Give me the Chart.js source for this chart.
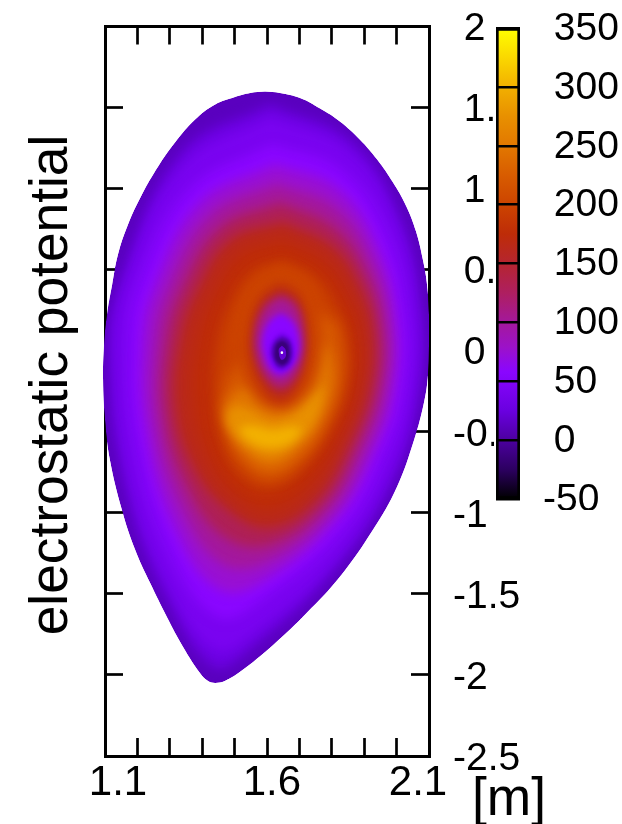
<!DOCTYPE html>
<html>
<head>
<meta charset="utf-8">
<script src="https://cdn.jsdelivr.net/npm/chart.js@4"></script>
<style>
    html, body { margin: 0; padding: 0; background: #fff; }
    #wrap { position: relative; width: 622px; height: 824px; overflow: hidden; }
    #mapChart { position: absolute; left: 0; top: 0; }
    #barChart { position: absolute; left: 494px; top: 0; background: #fff; }
</style>
</head>
<body>
<div id="wrap">
    <canvas id="mapChart" width="622" height="824"></canvas>
    <canvas id="barChart" width="128" height="510"></canvas>
</div>
<script>
// axis labels
const xMinorTicks = [1.1, 2.1, 0.1];
const xLabelValues = [1.14, 1.615, 2.066];
const xTickLabels = ['1.1', '1.6', '2.1'];
const yTickLabels = ['-2.5', '-2', '-1.5', '-1', '-0.5', ' 0', ' 0.5', ' 1', ' 1.5', ' 2'];
const barTickLabels = ['-50', ' 0', ' 50', ' 100', ' 150', ' 200', ' 250', ' 300', ' 350'];
const yTitle = 'electrostatic potential';
const xUnit = '[m]';

// colour scale
const colorValues = [-50, -25, 0, 25, 58, 79, 100, 125, 150, 175, 200, 225, 250, 275, 300, 325, 350];
const colorHex = ['#000000', '#2c0060', '#4c00a0', '#6a00e0', '#8a06ff', '#9c12c8', '#a4189c', '#ae1f60',
    '#b52530', '#be2c08', '#cc4400', '#d85c00', '#e27800', '#e89000', '#f2b000', '#fad800', '#ffff00'];

// potential contours, painted in this order: outer edge, up to the crescent, then down into the centre
const contourLevels = [12, 28, 42, 58, 75, 100, 130, 165, 175, 187, 198, 225, 250, 275, 300, 200, 170, 130, 100, 58, 30, 5, -15, 20];
const contourX = [
    [1.594, 1.640, 1.702, 1.764, 1.825, 1.887, 1.940, 1.989, 2.029, 2.060, 2.081, 2.094, 2.100, 2.100, 2.097, 2.085, 2.054, 2.001, 1.927, 1.825, 1.723, 1.619, 1.517, 1.470, 1.440, 1.418, 1.393, 1.341, 1.291, 1.239, 1.193, 1.152, 1.115, 1.100, 1.094, 1.097, 1.106, 1.122, 1.140, 1.171, 1.214, 1.264, 1.316, 1.378, 1.440, 1.501, 1.548],
    [1.609, 1.859, 2.010, 2.075, 2.069, 1.986, 1.804, 1.535, 1.436, 1.301, 1.171, 1.112, 1.149, 1.338],
    [1.612, 1.847, 1.995, 2.060, 2.051, 1.980, 1.816, 1.554, 1.440, 1.301, 1.180, 1.134, 1.168, 1.347],
    [1.615, 1.825, 1.964, 2.026, 2.017, 1.964, 1.841, 1.594, 1.449, 1.301, 1.199, 1.177, 1.208, 1.362],
    [1.625, 1.819, 1.943, 2.001, 1.992, 1.936, 1.819, 1.597, 1.455, 1.316, 1.227, 1.214, 1.251, 1.393],
    [1.631, 1.813, 1.924, 1.977, 1.967, 1.909, 1.798, 1.603, 1.461, 1.335, 1.257, 1.254, 1.294, 1.424],
    [1.640, 1.807, 1.906, 1.952, 1.943, 1.881, 1.776, 1.606, 1.467, 1.353, 1.285, 1.291, 1.338, 1.455],
    [1.649, 1.804, 1.887, 1.927, 1.918, 1.856, 1.754, 1.609, 1.477, 1.372, 1.316, 1.331, 1.384, 1.486],
    [1.649, 1.779, 1.850, 1.887, 1.881, 1.825, 1.733, 1.609, 1.501, 1.415, 1.372, 1.387, 1.433, 1.517],
    [1.649, 1.757, 1.819, 1.856, 1.850, 1.801, 1.711, 1.609, 1.517, 1.455, 1.430, 1.440, 1.477, 1.548],
    [1.649, 1.739, 1.801, 1.838, 1.832, 1.786, 1.702, 1.609, 1.529, 1.473, 1.452, 1.461, 1.492, 1.560],
    [1.816, 1.831, 1.785, 1.702, 1.609, 1.532, 1.480, 1.467, 1.517, 1.640, 1.748],
    [1.791, 1.801, 1.757, 1.696, 1.615, 1.541, 1.486, 1.473, 1.548, 1.640, 1.733],
    [1.778, 1.757, 1.702, 1.619, 1.541, 1.480, 1.492, 1.548, 1.615, 1.687, 1.739],
    [1.711, 1.677, 1.615, 1.548, 1.517, 1.563, 1.615, 1.671],
    [1.643, 1.733, 1.770, 1.757, 1.696, 1.625, 1.554, 1.510, 1.517, 1.563],
    [1.640, 1.696, 1.723, 1.717, 1.680, 1.640, 1.594, 1.554, 1.548, 1.578],
    [1.643, 1.690, 1.714, 1.708, 1.677, 1.640, 1.603, 1.569, 1.563, 1.591],
    [1.643, 1.686, 1.708, 1.702, 1.674, 1.640, 1.606, 1.575, 1.569, 1.597],
    [1.643, 1.680, 1.699, 1.693, 1.668, 1.640, 1.612, 1.591, 1.585, 1.606],
    [1.646, 1.671, 1.683, 1.677, 1.662, 1.646, 1.628, 1.612, 1.609, 1.622],
    [1.646, 1.668, 1.677, 1.671, 1.659, 1.646, 1.631, 1.619, 1.615, 1.625],
    [1.646, 1.662, 1.668, 1.665, 1.656, 1.646, 1.634, 1.625, 1.625, 1.631],
    [1.646, 1.656, 1.659, 1.656, 1.646, 1.640, 1.637, 1.637],
];
const contourY = [
    [1.599, 1.590, 1.559, 1.494, 1.414, 1.302, 1.179, 1.037, 0.895, 0.735, 0.562, 0.407, 0.222, 0.037, -0.148, -0.315, -0.549, -0.840, -1.105, -1.395, -1.617, -1.815, -1.981, -2.037, -2.049, -2.037, -1.988, -1.827, -1.642, -1.432, -1.228, -0.981, -0.673, -0.426, -0.179, 0.037, 0.222, 0.407, 0.593, 0.778, 0.963, 1.136, 1.284, 1.426, 1.519, 1.565, 1.590],
    [1.519, 1.296, 0.821, 0.241, -0.253, -0.809, -1.364, -1.864, -1.951, -1.562, -0.901, -0.043, 0.432, 1.228],
    [1.438, 1.235, 0.784, 0.222, -0.259, -0.741, -1.265, -1.747, -1.846, -1.451, -0.784, -0.019, 0.426, 1.148],
    [1.272, 1.117, 0.716, 0.191, -0.272, -0.611, -1.074, -1.519, -1.642, -1.228, -0.549, 0.037, 0.407, 0.994],
    [1.148, 1.000, 0.636, 0.167, -0.259, -0.605, -1.031, -1.414, -1.475, -1.099, -0.500, 0.049, 0.395, 0.914],
    [1.031, 0.883, 0.556, 0.148, -0.247, -0.593, -0.994, -1.302, -1.315, -0.969, -0.451, 0.056, 0.389, 0.840],
    [0.914, 0.759, 0.475, 0.130, -0.235, -0.580, -0.957, -1.198, -1.148, -0.840, -0.395, 0.062, 0.383, 0.759],
    [0.796, 0.642, 0.395, 0.111, -0.222, -0.568, -0.920, -1.093, -0.981, -0.716, -0.346, 0.068, 0.377, 0.685],
    [0.685, 0.549, 0.333, 0.099, -0.210, -0.519, -0.827, -0.981, -0.889, -0.642, -0.302, 0.068, 0.333, 0.593],
    [0.574, 0.469, 0.284, 0.080, -0.210, -0.475, -0.747, -0.870, -0.796, -0.580, -0.272, 0.037, 0.284, 0.500],
    [0.537, 0.438, 0.265, 0.068, -0.210, -0.438, -0.685, -0.809, -0.735, -0.549, -0.272, 0.006, 0.241, 0.457],
    [0.160, -0.148, -0.457, -0.685, -0.784, -0.704, -0.519, -0.272, -0.086, 0.006, 0.222],
    [0.006, -0.210, -0.457, -0.611, -0.710, -0.642, -0.488, -0.333, -0.210, -0.148, 0.037],
    [-0.210, -0.395, -0.549, -0.648, -0.593, -0.457, -0.352, -0.364, -0.426, -0.377, -0.272],
    [-0.475, -0.562, -0.599, -0.562, -0.475, -0.463, -0.488, -0.469],
    [0.512, 0.407, 0.130, -0.148, -0.321, -0.364, -0.272, -0.025, 0.222, 0.420],
    [0.420, 0.346, 0.130, -0.086, -0.272, -0.321, -0.259, -0.086, 0.099, 0.315],
    [0.358, 0.296, 0.111, -0.068, -0.210, -0.253, -0.198, -0.056, 0.111, 0.284],
    [0.327, 0.265, 0.099, -0.056, -0.167, -0.204, -0.160, -0.043, 0.111, 0.253],
    [0.235, 0.179, 0.068, -0.043, -0.117, -0.148, -0.117, -0.025, 0.068, 0.179],
    [0.111, 0.080, 0.000, -0.074, -0.111, -0.123, -0.111, -0.056, 0.006, 0.074],
    [0.086, 0.062, -0.006, -0.068, -0.093, -0.105, -0.093, -0.049, 0.000, 0.056],
    [0.062, 0.043, -0.006, -0.056, -0.080, -0.086, -0.074, -0.043, 0.006, 0.043],
    [0.031, 0.012, -0.019, -0.043, -0.056, -0.043, -0.019, 0.012],
];
// the white spot at the magnetic axis
const axisX = [1.646];
const axisY = [-0.012];

const hexToRgb = (hex) => [1, 3, 5].map((i) => parseInt(hex.slice(i, i + 2), 16));

const colorAt = (value) => {
    let i = 0;
    while (i < colorValues.length - 2 && value > colorValues[i + 1]) i++;
    const t = (value - colorValues[i]) / (colorValues[i + 1] - colorValues[i]);
    const a = hexToRgb(colorHex[i]);
    const b = hexToRgb(colorHex[i + 1]);
    const c = a.map((v, k) => Math.round(v + (b[k] - v) * t));
    return `rgb(${c[0]}, ${c[1]}, ${c[2]})`;
};

Chart.defaults.font.family = '"Liberation Sans", Helvetica, Arial, sans-serif';
Chart.defaults.color = '#000';
Chart.defaults.animation = false;
Chart.defaults.responsive = false;
Chart.defaults.plugins.legend.display = false;
Chart.defaults.plugins.tooltip.enabled = false;

const contourSets = contourLevels.map((level, i) => ({
    data: contourX[i].concat(contourX[i][0]).map((x, k) => ({
        x,
        y: contourY[i].concat(contourY[i][0])[k],
    })),
    showLine: true,
    tension: 0.4,
    borderWidth: 0,
    pointRadius: 0,
    backgroundColor: colorAt(level),
}));

// Paints the contours through the line element path, clipped to the plasma edge
const contourFill = {
    id: 'contourFill',
    beforeDatasetsDraw: (chart) => {
        const ctx = chart.ctx;
        const edge = chart.getDatasetMeta(0).dataset;
        ctx.save();
        ctx.beginPath();
        edge.path(ctx);
        ctx.closePath();
        ctx.clip();
        contourLevels.forEach((level, i) => {
            const meta = chart.getDatasetMeta(i);
            const ys = meta.data.map((p) => p.y);
            const span = Math.max(...ys) - Math.min(...ys);
            // the crescent needs a softer edge than its size would give
            const blur = level >= 225 ? (400 - level) / 25 : Math.min(6, span * 0.05);
            ctx.filter = i === 0 ? 'none' : `blur(${blur}px)`;
            ctx.fillStyle = meta.dataset.options.backgroundColor;
            ctx.beginPath();
            meta.dataset.path(ctx);
            ctx.closePath();
            ctx.fill();
        });
        ctx.restore();
    },
};

const axisTitles = {
    id: 'axisTitles',
    afterDraw: (chart) => {
        const ctx = chart.ctx;
        ctx.save();
        ctx.fillStyle = '#000';
        ctx.font = '53.3px "Liberation Sans"';
        ctx.textAlign = 'center';
        ctx.textBaseline = 'alphabetic';
        ctx.fillText(xUnit, 509, 815);
        ctx.translate(67, 385);
        ctx.rotate(-Math.PI / 2);
        ctx.fillText(yTitle, 0, 0);
        ctx.restore();
    },
};

// Fixes the box of an axis so the plot area lands where the reference has it
const fixBox = (scale, size) => {
    if (scale.isHorizontal()) scale.height = size;
    else scale.width = size;
    scale.paddingTop = 0;
    scale.paddingBottom = 0;
    scale.paddingLeft = 0;
    scale.paddingRight = 0;
};

const frameAxis = (position, axis, extent, min, max, step) => ({
    type: 'linear',
    axis,
    position,
    min,
    max,
    border: { display: true, color: '#000', width: 3 },
    grid: { drawOnChartArea: false, drawTicks: true, tickLength: -18, tickWidth: 2.7, tickColor: '#000' },
    ticks: { display: false, stepSize: step, autoSkip: false, maxRotation: 0 },
    afterFit: (scale) => fixBox(scale, extent),
});

const rightAxis = frameAxis('right', 'y', 193, -2.5, 2, 0.5);
rightAxis.ticks = {
    display: true,
    stepSize: 0.5,
    autoSkip: false,
    maxRotation: 0,
    padding: 42,
    labelOffset: 3,
    font: { size: 39 },
    callback: (value, i) => yTickLabels[i],
};

new Chart(document.getElementById('mapChart'), {
    type: 'scatter',
    data: {
        datasets: contourSets.concat([{
            data: axisX.map((x, i) => ({ x, y: axisY[i] })),
            pointRadius: 1.3,
            pointBorderWidth: 0,
            backgroundColor: '#fff',
        }]),
    },
    options: {
        layout: { padding: 0, autoPadding: false },
        scales: {
            x: frameAxis('bottom', 'x', 0, xMinorTicks[0], xMinorTicks[1], xMinorTicks[2]),
            x2: frameAxis('top', 'x', 26.5, xMinorTicks[0], xMinorTicks[1], xMinorTicks[2]),
            y: frameAxis('left', 'y', 105, -2.5, 2, 0.5),
            y2: rightAxis,
            xLabels: {
                type: 'linear',
                axis: 'x',
                position: 'bottom',
                weight: 5,
                min: xMinorTicks[0],
                max: xMinorTicks[1],
                border: { display: false },
                grid: { display: false, drawTicks: false },
                ticks: {
                    padding: 2,
                    autoSkip: false,
                    maxRotation: 0,
                    font: { size: 42 },
                    callback: (value, i) => xTickLabels[i],
                },
                afterBuildTicks: (scale) => {
                    scale.ticks = xLabelValues.map((value) => ({ value }));
                },
                afterFit: (scale) => fixBox(scale, 68),
            },
        },
    },
    plugins: [contourFill, axisTitles],
});

new Chart(document.getElementById('barChart'), {
    type: 'bar',
    data: {
        labels: [''],
        datasets: [{
            data: [[-50, 350]],
            barPercentage: 1,
            categoryPercentage: 1,
            borderColor: '#000',
            borderWidth: 3,
            borderSkipped: false,
            backgroundColor: (context) => {
                const scale = context.chart.scales.y;
                const top = scale ? scale.getPixelForValue(350) : NaN;
                const bottom = scale ? scale.getPixelForValue(-50) : NaN;
                if (!Number.isFinite(top) || !Number.isFinite(bottom)) return colorHex[0];
                const gradient = context.chart.ctx.createLinearGradient(0, bottom, 0, top);
                colorValues.forEach((value, i) => gradient.addColorStop((value + 50) / 400, colorHex[i]));
                return gradient;
            },
        }],
    },
    options: {
        layout: { padding: { left: 2, top: 28, bottom: 11 }, autoPadding: false },
        scales: {
            x: {
                position: 'bottom',
                display: true,
                border: { display: false },
                grid: { display: false },
                ticks: { display: false },
                afterFit: (scale) => fixBox(scale, 0),
            },
            y: {
                position: 'right',
                min: -50,
                max: 350,
                border: { display: false },
                grid: { color: '#000', lineWidth: 2.5, z: 1, drawTicks: false },
                ticks: {
                    stepSize: 50,
                    padding: 23,
                    labelOffset: 1,
                    font: { size: 39 },
                    autoSkip: false,
                    callback: (value, i) => barTickLabels[i],
                },
                afterFit: (scale) => fixBox(scale, 102),
            },
        },
    },
});
</script>
</body>
</html>
